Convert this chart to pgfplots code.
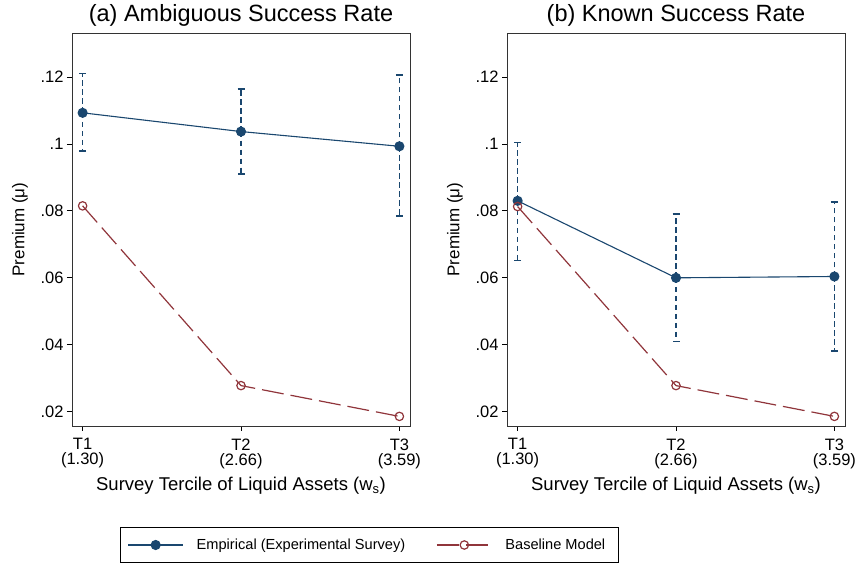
\documentclass[border=0pt]{standalone}
\usepackage{fontspec}
\setmainfont{Liberation Sans}
\usepackage{pgfplots}
\pgfplotsset{compat=1.18}
\definecolor{navy}{RGB}{26,71,111}
\definecolor{maroon}{RGB}{144,53,59}

\pgfplotstableread{
x y ep em
1 0.1093 0.0117 0.0114
2 0.1037 0.0127 0.0127
3 0.0993 0.0213 0.0208
}\empA
\pgfplotstableread{
x y ep em
1 0.0830 0.0175 0.0178
2 0.0600 0.0190 0.0190
3 0.0604 0.0222 0.0222
}\empB
\pgfplotstableread{
x y
1 0.0815
2 0.0278
3 0.0186
}\baseA
\pgfplotstableread{
x y
1 0.0813
2 0.0278
3 0.0186
}\baseB

\pgfplotsset{
 mystyle/.style={
  width=338pt, height=393pt, scale only axis,
  xmin=0.933, xmax=3.067, ymin=0.01573, ymax=0.13315,
  xtick={1,2,3}, xticklabels={T1\\(1.30), T2\\(2.66), T3\\(3.59)},
  xticklabel style={align=center, font=\fontsize{16.5}{15}\selectfont, yshift=-4pt},
  ytick={0.02,0.04,0.06,0.08,0.1,0.12}, yticklabels={.02,.04,.06,.08,.1,.12},
  yticklabel style={font=\fontsize{16.5}{18}\selectfont},
  tick pos=left, tick align=outside, major tick length=5pt,
  axis line style={black!80, line width=0.9pt},
  tick style={black, line width=0.8pt},
  xlabel={Survey Tercile of Liquid Assets (w\textsubscript{s})},
  ylabel={Premium (μ)},
  xlabel style={font=\fontsize{18.5}{21}\selectfont, at={(axis description cs:0.5,-0.1527)}, anchor=center},
  ylabel style={font=\fontsize{17}{20}\selectfont, at={(axis description cs:-0.1538,0.5)}, anchor=center},
  title style={font=\fontsize{23.5}{27}\selectfont, yshift=-3pt},
  clip=false,
  legend image code/.code={\draw[mark repeat=2, mark phase=2, ##1] plot coordinates {(0pt,0pt) (27.5pt,0pt) (55pt,0pt)};},
 },
 emp/.style={navy, line width=1.1pt, mark=*, mark size=4.5pt, mark options={solid, fill=navy},
   error bars/.cd, y dir=both, y explicit,
   error bar style={navy, line width=1.6pt, dash pattern=on 5.5pt off 3.5pt},
   error mark options={solid, line width=1.5pt, mark size=3.5pt, rotate=90}},
 base/.style={maroon, line width=1.2pt, dash pattern=on 22pt off 7pt, mark=o, mark size=4.2pt, mark options={solid, fill=white}},
}

\begin{document}
\begin{tikzpicture}
\useasboundingbox (0pt,0pt) rectangle (858pt,564pt);
\begin{axis}[mystyle, at={(72pt,138pt)}, anchor=south west,
  title={(a) Ambiguous Success Rate},
  legend columns=2,
  legend cell align=left,
  legend style={at={(0.880,-0.3028)}, anchor=center, draw=black, line width=0.8pt,
    font=\fontsize{14.6}{17.5}\selectfont, inner xsep=7pt, inner ysep=9.5pt,
    /tikz/every odd column/.append style={column sep=11pt},
    /tikz/every even column/.append style={column sep=29pt}},
]
\addplot[emp] table[x=x, y=y, y error plus=ep, y error minus=em] {\empA};
\addplot[base] table[x=x, y=y] {\baseA};
\legend{Empirical (Experimental Survey), Baseline Model\hspace*{4pt}}
\end{axis}
\begin{axis}[mystyle, at={(507pt,138pt)}, anchor=south west,
  title={(b) Known Success Rate}]
\addplot[emp] table[x=x, y=y, y error plus=ep, y error minus=em] {\empB};
\addplot[base] table[x=x, y=y] {\baseB};
\end{axis}
\end{tikzpicture}
\end{document}
